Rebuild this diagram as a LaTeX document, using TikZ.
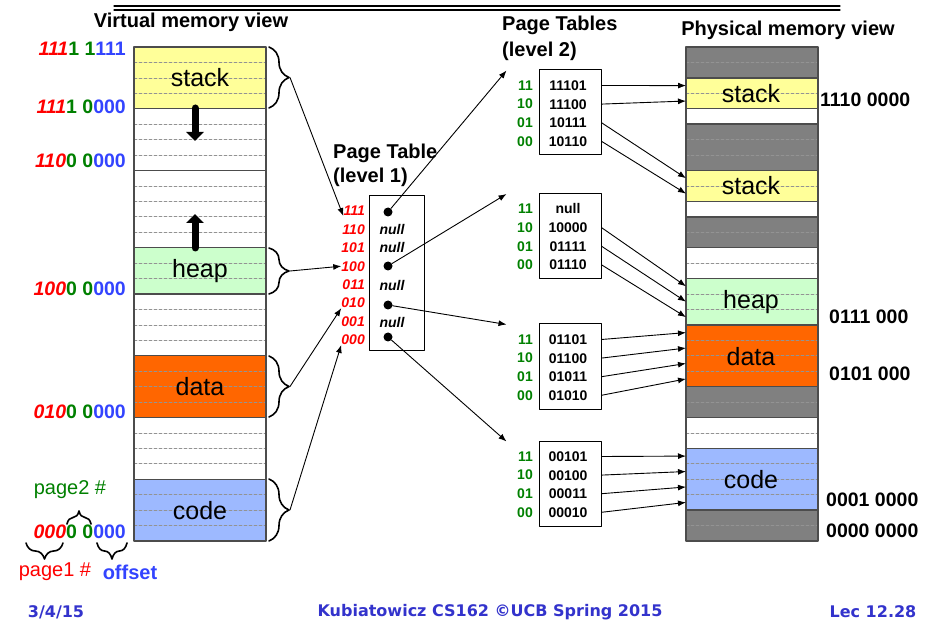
\documentclass[tikz,border=0pt]{standalone}
\usepackage{fontspec}
\setmainfont{Liberation Sans}
\newfontfamily\footfont{DejaVu Sans}
\usetikzlibrary{arrows.meta,decorations.pathreplacing,calc}

\definecolor{stackc}{RGB}{255,255,153}
\definecolor{heapc}{RGB}{204,255,204}
\definecolor{datac}{RGB}{255,102,0}
\definecolor{codec}{RGB}{157,185,255}
\definecolor{freec}{RGB}{128,128,128}
\definecolor{addrred}{RGB}{255,0,0}
\definecolor{addrgreen}{RGB}{0,128,0}
\definecolor{addrblue}{RGB}{51,68,255}
\definecolor{footblue}{RGB}{51,51,204}

\newcommand{\vaddr}[3]{\textcolor{addrred}{\itshape #1}\textcolor{addrgreen}{#2}\textcolor{addrblue}{#3}}

\tikzset{
  memrow/.style={draw=gray!85, densely dashed, line width=0.7pt},
  memseg/.style={draw=black!70, line width=1.5pt},
  seglabel/.style={font=\fontsize{25}{28}\selectfont, inner sep=0pt},
  viewtitle/.style={font=\fontsize{20}{24}\selectfont\bfseries, inner sep=0pt},
  vaddrlbl/.style={font=\fontsize{19.5}{22}\selectfont\bfseries, anchor=east, inner sep=0pt},
  paddrlbl/.style={font=\fontsize{19.5}{22}\selectfont\bfseries, anchor=west, inner sep=0pt},
  l1idx/.style={font=\fontsize{14}{16}\selectfont\bfseries\itshape, text=addrred, anchor=east, inner sep=0pt},
  l1null/.style={font=\fontsize{14}{16}\selectfont\bfseries\itshape, inner sep=0pt},
  ptdot/.style={circle, fill=black, inner sep=0pt, minimum size=9pt},
  ptbox/.style={draw, line width=1pt, inner sep=0pt},
  l2idx/.style={font=\fontsize{14}{16}\selectfont\bfseries, text=addrgreen, anchor=east, inner sep=0pt},
  l2val/.style={font=\fontsize{14}{16}\selectfont\bfseries, inner sep=0pt, text height=10pt, text depth=0pt},
  link/.style={-{Latex[length=8pt,width=6pt]}, line width=0.9pt},
  growarrow/.style={-{Triangle[length=9pt,width=17pt]}, line width=7pt},
  segbrace/.style={decorate, decoration={brace, amplitude=#1}, line width=1.6pt},
  segbrace/.default=20pt,
  footer/.style={font=\footfont\fontsize{16}{18}\selectfont\bfseries, text=footblue, inner sep=0pt},
}

\begin{document}
\begin{tikzpicture}[x=1pt,y=-1pt,line cap=round,line join=round]
    \useasboundingbox (0,0) rectangle (940,628);

    % rule at the top
    \draw[line width=1.2pt] (114,6) -- (840,6);
    \draw[line width=1.2pt] (114,10) -- (840,10);

    %% virtual memory
    \node[viewtitle] (vtitle) at (191,22) {Virtual memory view};
    \foreach \first/\n/\col in {0/4/stackc,4/4/white,8/5/white,13/3/heapc,16/4/white,20/4/datac,24/4/white,28/4/codec}
        \fill[\col] (134,{47+\first*15.4375}) rectangle (266,{47+(\first+\n)*15.4375});
    \foreach \k in {1,...,31}
        \draw[memrow] (134,{47+\k*15.4375}) -- (266,{47+\k*15.4375});
    \foreach \first/\n in {0/4,4/4,8/5,13/3,16/4,20/4,24/4,28/4}
        \draw[memseg] (134,{47+\first*15.4375}) rectangle (266,{47+(\first+\n)*15.4375});

    \node[seglabel] (vstack) at (200,78) {stack};
    \node[seglabel] (vheap) at (200,271) {heap};
    \node[seglabel] (vdata) at (200,387) {data};
    \node[seglabel] (vcode) at (200,511) {code};

    \coordinate (stackend) at (195,108);
    \coordinate (stackgrow) at (195,141);
    \coordinate (heapend) at (195,248);
    \coordinate (heapgrow) at (195,214);
    \draw[growarrow] (stackend) -- (stackgrow);
    \draw[growarrow] (heapend) -- (heapgrow);

    \node[vaddrlbl] (va1) at (126,49) {\vaddr{111}{1 1}{111}};
    \node[vaddrlbl] (va2) at (126,107) {\vaddr{111}{1 0}{000}};
    \node[vaddrlbl] (va3) at (126,161) {\vaddr{110}{0 0}{000}};
    \node[vaddrlbl] (va4) at (126,289) {\vaddr{100}{0 0}{000}};
    \node[vaddrlbl] (va5) at (126,412) {\vaddr{010}{0 0}{000}};
    \node[vaddrlbl] (va6) at (126,532) {\vaddr{000}{0 0}{000}};

    % address fields
    \draw[segbrace=13pt] (67,524) -- (91,524);
    \draw[segbrace=16pt] (63,543) -- (26,543);
    \draw[segbrace=16pt] (127,543) -- (97,543);
    \node[font=\fontsize{20}{22}\selectfont, text=addrgreen, inner sep=0pt] (pg2) at (70,490) {page2 \#};
    \node[font=\fontsize{20}{22}\selectfont, text=addrred, inner sep=0pt] (pg1) at (55,572) {page1 \#};
    \node[font=\fontsize{20}{22}\selectfont\bfseries, text=addrblue, inner sep=0pt] (off) at (130,572) {offset};

    % braces on the segments
    \draw[segbrace] (269,47) -- (269,108);
    \draw[segbrace] (269,248) -- (269,294);
    \draw[segbrace] (269,356) -- (269,417);
    \draw[segbrace] (269,479) -- (269,541);
    \coordinate (bstack) at (290,77.5);
    \coordinate (bheap) at (290,271);
    \coordinate (bdata) at (290,386.5);
    \coordinate (bcode) at (290,510);

    %% page table, level 1
    \node[viewtitle, anchor=west] (pt1a) at (333,153) {Page Table};
    \node[viewtitle, anchor=west] (pt1b) at (333,177) {(level 1)};
    \node[ptbox, minimum width=55pt, minimum height=155pt] (pt1) at (396.5,273.5) {};
    \foreach \idx [count=\i from 0] in {111,110,101,100,011,010,001,000}
        \node[l1idx] (l\idx) at (365,{211+\i*18.4}) {\idx};
    \foreach \idx/\yy in {110/229,101/247,011/285,001/322}
        \node[l1null] (n\idx) at (392,\yy) {null};
    \node[ptdot] (d111) at (388,212) {};
    \node[ptdot] (d100) at (388,266) {};
    \node[ptdot] (d010) at (388,305) {};
    \node[ptdot] (d000) at (388,337) {};

    \draw[link] (bstack) -- (l111.south west);
    \draw[link] (bheap) -- (l100.west);
    \draw[link] (bdata) -- (l010.south west);
    \draw[link] (bcode) -- (l000.south west);

    %% page tables, level 2
    \node[viewtitle, anchor=west] (pt2a) at (502,25) {Page Tables};
    \node[viewtitle, anchor=west] (pt2b) at (502,51) {(level 2)};
    \foreach \b/\cy in {1/112.5,2/236,3/366.5,4/483.5}{
        \node[ptbox, minimum width=62pt, minimum height=85pt] (b\b) at (570,\cy) {};
        \coordinate (in\b) at ([xshift=-32pt,yshift=-1pt]b\b.north west);
        \foreach \idx [count=\i from 0] in {11,10,01,00}
            \node[l2idx] (i\b\idx) at (533,{\cy-27+\i*18.6}) {\idx};
    }
    \foreach \b/\idx/\val in {1/11/11101,1/10/11100,1/01/10111,1/00/10110,
                              2/11/null,2/10/10000,2/01/01111,2/00/01110,
                              3/11/01101,3/10/01100,3/01/01011,3/00/01010,
                              4/11/00101,4/10/00100,4/01/00011,4/00/00010}
        \node[l2val] (e\b\idx) at ([xshift=35pt]i\b\idx.east) {\val};

    \draw[link] (d111) -- (in1);
    \draw[link] (d100) -- (in2);
    \draw[link] (d010) -- (in3);
    \draw[link] (d000) -- (in4);

    %% physical memory
    \node[viewtitle] (ptitle) at (788,30) {Physical memory view};
    \foreach \first/\n/\col in {0/2/freec,2/2/stackc,4/1/white,5/3/freec,8/2/stackc,10/1/white,11/2/freec,13/2/white,15/3/heapc,18/4/datac,22/2/freec,24/2/white,26/4/codec,30/2/freec}
        \fill[\col] (686,{47+\first*15.4375}) rectangle (818,{47+(\first+\n)*15.4375});
    \foreach \k in {1,...,31}
        \draw[memrow] (686,{47+\k*15.4375}) -- (818,{47+\k*15.4375});
    \foreach \first/\n in {0/2,2/2,4/1,5/3,8/2,10/1,11/2,13/2,15/3,18/4,22/2,24/2,26/4,30/2}
        \draw[memseg] (686,{47+\first*15.4375}) rectangle (818,{47+(\first+\n)*15.4375});
    \foreach \t in {0,...,31}
        \coordinate (p\t) at (686,{47+(\t+0.5)*15.4375});

    \node[seglabel] (pstack1) at (751,94) {stack};
    \node[seglabel] (pstack2) at (751,186) {stack};
    \node[seglabel] (pheap) at (751,302) {heap};
    \node[seglabel] (pdata) at (751,357) {data};
    \node[seglabel] (pcode) at (751,480) {code};

    \node[paddrlbl] (pa1) at (820,100) {1110 0000};
    \node[paddrlbl] (pa2) at (829,317) {0111 000};
    \node[paddrlbl] (pa3) at (829,374) {0101 000};
    \node[paddrlbl] (pa4) at (826,500) {0001 0000};
    \node[paddrlbl] (pa5) at (826,531) {0000 0000};

    \foreach \b/\idx/\t in {1/11/2,1/10/3,1/01/8,1/00/9,
                            2/10/15,2/01/16,2/00/17,
                            3/11/18,3/10/19,3/01/20,3/00/21,
                            4/11/26,4/10/27,4/01/28,4/00/29}
        \draw[link] (e\b\idx -| b\b.east) -- (p\t);

    % footer
    \node[footer] (fdate) at (56,612) {3/4/15};
    \node[footer] (fmid) at (490,612) {Kubiatowicz CS162 ©UCB Spring 2015};
    \node[footer] (flec) at (873,612) {Lec 12.28};
\end{tikzpicture}
\end{document}
